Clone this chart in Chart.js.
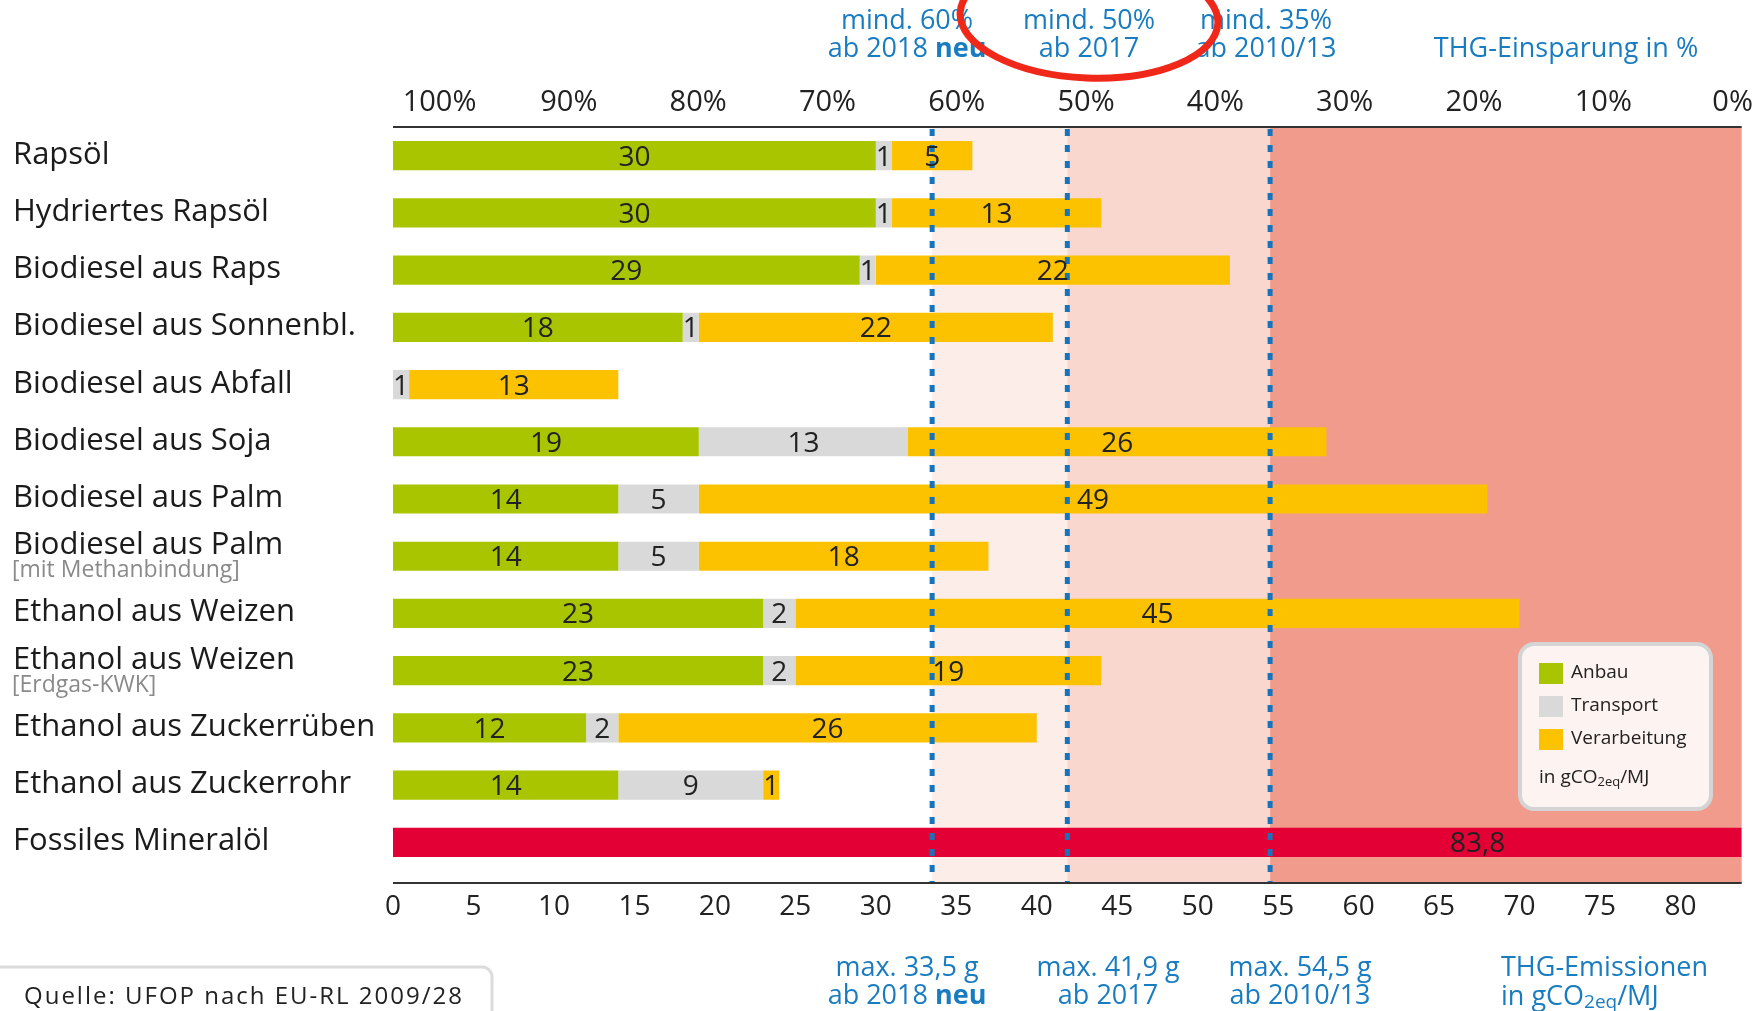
<!DOCTYPE html>
<html>
<head>
<meta charset="utf-8">
<script src="https://cdn.jsdelivr.net/npm/chart.js@4.4.1/dist/chart.umd.min.js"></script>
<style>
  html, body { margin: 0; padding: 0; background: #fff; }
  canvas { display: block; }
</style>
</head>
<body>
<canvas id="myChart" width="1760" height="1011"></canvas>
<script>
const categories = ['Rapsöl', 'Hydriertes Rapsöl', 'Biodiesel aus Raps', 'Biodiesel aus Sonnenbl.', 'Biodiesel aus Abfall',
  'Biodiesel aus Soja', 'Biodiesel aus Palm', 'Biodiesel aus Palm', 'Ethanol aus Weizen', 'Ethanol aus Weizen',
  'Ethanol aus Zuckerrüben', 'Ethanol aus Zuckerrohr', 'Fossiles Mineralöl'];
const subLabels = ['', '', '', '', '', '', '', '[mit Methanbindung]', '', '[Erdgas-KWK]', '', '', ''];

// THG-Emissionen in gCO2eq/MJ
const anbau = [30, 30, 29, 18, null, 19, 14, 14, 23, 23, 12, 14, null];
const transport = [1, 1, 1, 1, 1, 13, 5, 5, 2, 2, 2, 9, null];
const verarbeitung = [5, 13, 22, 22, 13, 26, 49, 18, 45, 19, 26, 1, null];
const fossil = [null, null, null, null, null, null, null, null, null, null, null, null, 83.8];

const emissionTicks = [0, 5, 10, 15, 20, 25, 30, 35, 40, 45, 50, 55, 60, 65, 70, 75, 80];
const savingTicks = [100, 90, 80, 70, 60, 50, 40, 30, 20, 10, 0];
const limits = [33.5, 41.9, 54.5];

const FONT = "'Open Sans', 'DejaVu Sans', sans-serif";
const BLUE = '#1a7cc0';
const fossilLabelAt = 67.4;

function subText(ctx, x, y, parts, size) {
  // parts: [text, isSub]
  let cx = x;
  parts.forEach(([t, sub]) => {
    ctx.font = (sub ? Math.round(size * 0.7) : size) + 'px ' + FONT;
    ctx.fillText(t, cx, sub ? y + size * 0.22 : y);
    cx += ctx.measureText(t).width;
  });
}

function twoLines(ctx, cx, y, l1, l2a, l2b) {
  ctx.font = '27px ' + FONT;
  ctx.textAlign = 'center';
  ctx.fillText(l1, cx, y);
  ctx.textAlign = 'left';
  const w1 = ctx.measureText(l2a).width;
  ctx.font = 'bold 27px ' + FONT;
  const w2 = l2b ? ctx.measureText(l2b).width : 0;
  const x0 = cx - (w1 + w2) / 2;
  ctx.font = '27px ' + FONT;
  ctx.fillText(l2a, x0, y + 28);
  if (l2b) {
    ctx.font = 'bold 27px ' + FONT;
    ctx.fillText(l2b, x0 + w1, y + 28);
  }
}

const decor = {
  id: 'decor',
  beforeDatasetsDraw(chart) {
    const { ctx, chartArea: a, scales: { x } } = chart;
    const bottom = a.bottom + 12;
    const bands = ['#fdede9', '#f9d7cf', '#f09b8c'];
    ctx.save();
    limits.forEach((v, i) => {
      const x0 = x.getPixelForValue(v);
      const x1 = i < limits.length - 1 ? x.getPixelForValue(limits[i + 1]) : a.right;
      ctx.fillStyle = bands[i];
      ctx.fillRect(x0, a.top, x1 - x0, bottom - a.top);
    });
    ctx.restore();
  },
  afterDatasetsDraw(chart) {
    const { ctx, chartArea: a, scales: { x } } = chart;
    const bottom = a.bottom + 12;
    ctx.save();
    // Grenzwerte
    ctx.strokeStyle = '#1774bc';
    ctx.lineWidth = 5;
    ctx.setLineDash([7, 9]);
    limits.forEach(v => {
      const px = x.getPixelForValue(v);
      ctx.beginPath();
      ctx.moveTo(px, a.top + 2);
      ctx.lineTo(px, bottom);
      ctx.stroke();
    });
    ctx.setLineDash([]);
    // Achsenlinien
    ctx.strokeStyle = '#333';
    ctx.lineWidth = 2;
    ctx.beginPath();
    ctx.moveTo(a.left, a.top);
    ctx.lineTo(a.right, a.top);
    ctx.moveTo(a.left, bottom);
    ctx.lineTo(a.right, bottom);
    ctx.stroke();

    // Werte in den Balken
    ctx.fillStyle = '#222';
    ctx.font = '28px ' + FONT;
    ctx.textAlign = 'center';
    ctx.textBaseline = 'middle';
    chart.data.datasets.forEach((ds, di) => {
      const meta = chart.getDatasetMeta(di);
      meta.data.forEach((bar, i) => {
        const v = ds.data[i];
        if (v == null) return;
        let cx = (bar.x + bar.base) / 2;
        if (ds.label === 'Fossil') cx = x.getPixelForValue(fossilLabelAt);
        ctx.fillText(String(v).replace('.', ','), cx, bar.y + 2);
      });
    });
    ctx.restore();
  },
  afterDraw(chart) {
    const { ctx, chartArea: a, scales: { y } } = chart;
    ctx.save();

    // Kategorien
    ctx.textBaseline = 'alphabetic';
    ctx.textAlign = 'left';
    categories.forEach((c, i) => {
      const py = y.getPixelForValue(i);
      const sub = subLabels[i];
      ctx.fillStyle = '#1b1b1b';
      ctx.font = '31px ' + FONT;
      ctx.fillText(c, 13, py + 8 - (sub ? 10 : 0));
      if (sub) {
        ctx.fillStyle = '#8a8a8a';
        ctx.font = '23px ' + FONT;
        ctx.fillText(sub, 12, py + 21);
      }
    });

    // Legende
    const lx = 1520, ly = 644, lw = 191, lh = 165;
    ctx.fillStyle = '#fdf3f1';
    ctx.strokeStyle = '#d4d4d4';
    ctx.lineWidth = 4;
    ctx.beginPath();
    ctx.roundRect(lx, ly, lw, lh, 14);
    ctx.fill();
    ctx.stroke();
    ctx.textBaseline = 'middle';
    chart.data.datasets.slice(0, 3).forEach((ds, i) => {
      const cy = ly + 29 + i * 33;
      ctx.fillStyle = ds.backgroundColor;
      ctx.fillRect(lx + 19, cy - 10, 24, 21);
      ctx.fillStyle = '#222';
      ctx.font = '19px ' + FONT;
      ctx.fillText(ds.label, lx + 51, cy);
    });
    ctx.fillStyle = '#222';
    subText(ctx, lx + 19, ly + 134, [['in gCO', false], ['2eq', true], ['/MJ', false]], 19);

    // Annotationen oben / unten
    ctx.fillStyle = BLUE;
    ctx.textBaseline = 'middle';
    twoLines(ctx, 907, 21, 'mind. 60%', 'ab 2018 ', 'neu');
    twoLines(ctx, 1089, 21, 'mind. 50%', 'ab 2017', '');
    twoLines(ctx, 1266, 21, 'mind. 35%', 'ab 2010/13', '');
    ctx.font = '27px ' + FONT;
    ctx.textAlign = 'center';
    ctx.fillText('THG-Einsparung in %', 1566, 49);

    twoLines(ctx, 907, 968, 'max. 33,5 g', 'ab 2018 ', 'neu');
    twoLines(ctx, 1108, 968, 'max. 41,9 g', 'ab 2017', '');
    twoLines(ctx, 1300, 968, 'max. 54,5 g', 'ab 2010/13', '');
    ctx.textAlign = 'left';
    ctx.font = '27px ' + FONT;
    ctx.fillText('THG-Emissionen', 1501, 968);
    subText(ctx, 1501, 997, [['in gCO', false], ['2eq', true], ['/MJ', false]], 27);

    // Quelle
    ctx.fillStyle = '#fff';
    ctx.strokeStyle = '#dcdcdc';
    ctx.lineWidth = 3;
    ctx.beginPath();
    ctx.roundRect(-12, 967, 504, 70, 10);
    ctx.fill();
    ctx.stroke();
    ctx.fillStyle = '#222';
    ctx.font = '24px ' + FONT;
    ctx.letterSpacing = '2px';
    ctx.textAlign = 'left';
    ctx.fillText('Quelle: UFOP nach EU-RL 2009/28', 24, 997);
    ctx.letterSpacing = '0px';

    // rote Markierung
    ctx.strokeStyle = '#f0281a';
    ctx.lineWidth = 7;
    ctx.beginPath();
    ctx.ellipse(1089, 18, 129, 60, 0.04, 0, Math.PI * 2);
    ctx.stroke();

    ctx.restore();
  }
};

const ctx = document.getElementById('myChart').getContext('2d');

const myChart = new Chart(ctx, {
  type: 'bar',
  data: {
    labels: categories,
    datasets: [
      { label: 'Anbau', data: anbau, backgroundColor: '#a9c500' },
      { label: 'Transport', data: transport, backgroundColor: '#d9d9da' },
      { label: 'Verarbeitung', data: verarbeitung, backgroundColor: '#fcc200' },
      { label: 'Fossil', data: fossil, backgroundColor: '#e30034' }
    ]
  },
  options: {
    indexAxis: 'y',
    responsive: false,
    animation: false,
    datasets: {
      bar: { barPercentage: 0.51, categoryPercentage: 1 }
    },
    layout: { padding: { left: 393, right: 17 } },
    plugins: {
      legend: { display: false },
      tooltip: { enabled: false }
    },
    scales: {
      y: { stacked: true, display: false },
      x: {
        stacked: true,
        min: 0,
        max: 83.8,
        position: 'bottom',
        grid: { display: false, drawTicks: false },
        border: { display: false },
        afterBuildTicks: s => { s.ticks = emissionTicks.map(v => ({ value: v })); },
        afterFit: s => { s.height = 140; },
        ticks: { color: '#222', padding: 19, maxRotation: 0, font: { family: FONT, size: 28 } }
      },
      x2: {
        type: 'linear',
        position: 'top',
        reverse: true,
        min: -0.7,
        max: 103.6,
        grid: { display: false, drawTicks: false },
        border: { display: false },
        afterBuildTicks: s => { s.ticks = savingTicks.map(v => ({ value: v })); },
        afterFit: s => { s.height = 127; },
        ticks: {
          color: '#222', padding: 7, maxRotation: 0, font: { family: FONT, size: 29 },
          callback: v => v + '%'
        }
      }
    }
  },
  plugins: [decor]
});
</script>
</body>
</html>
